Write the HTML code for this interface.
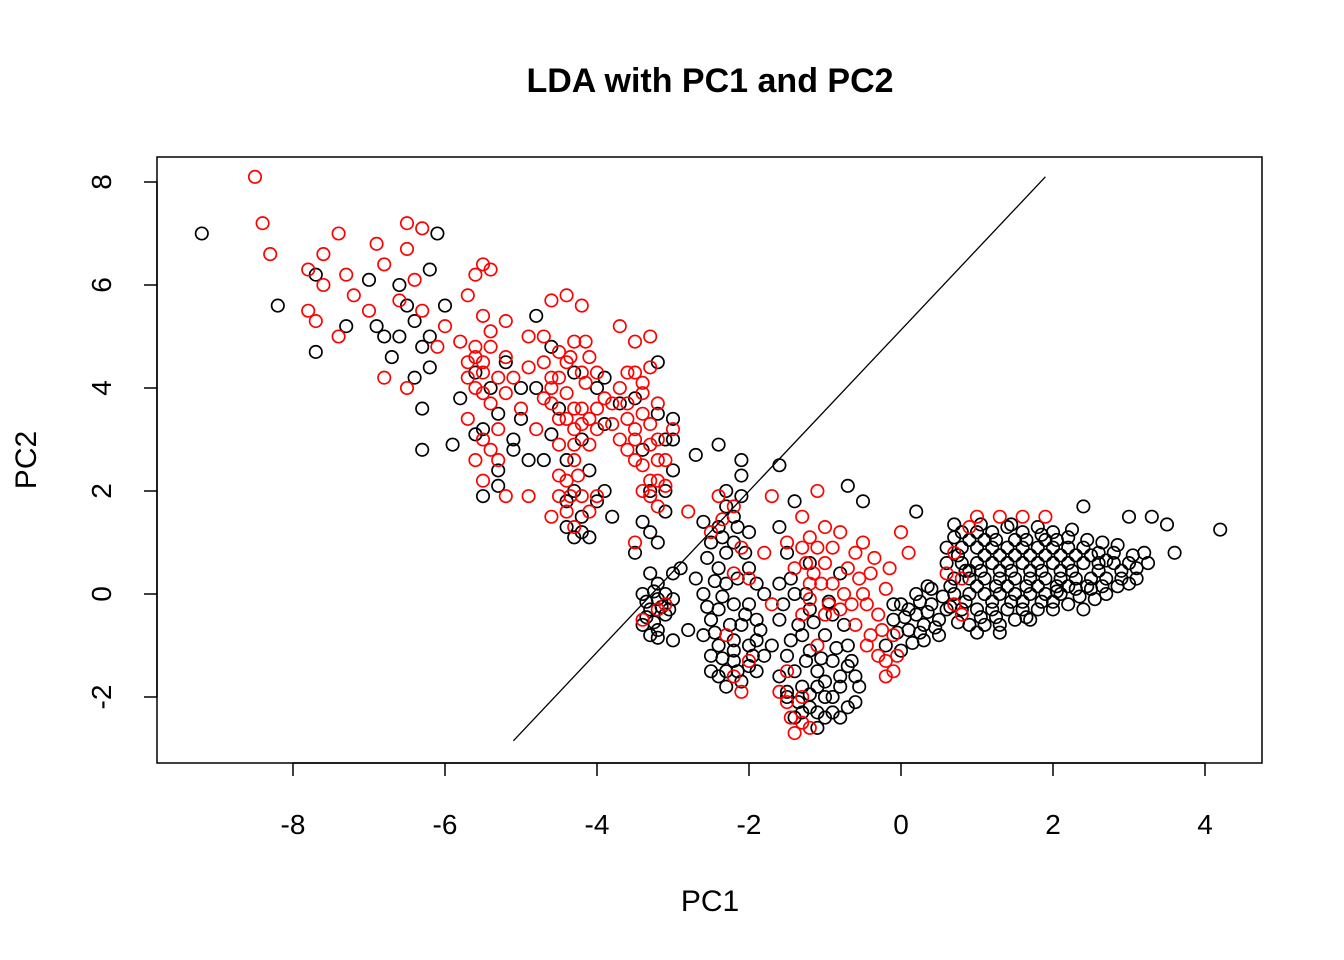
<!DOCTYPE html>
<html><head><meta charset="utf-8">
<style>
html,body{margin:0;padding:0;background:#fff;}
svg{display:block;font-family:"Liberation Sans",Arial,sans-serif;}
</style></head>
<body>
<svg id="chart" width="1344" height="960">
<text x="710" y="92" text-anchor="middle" font-size="34" font-weight="bold">LDA with PC1 and PC2</text>
<text x="710" y="911" text-anchor="middle" font-size="30">PC1</text>
<text x="36" y="460" text-anchor="middle" font-size="30" transform="rotate(-90 36 460)">PC2</text>
<g id="points"></g>
<g id="axes"></g>
<rect x="157" y="157" width="1105" height="606" fill="none" stroke="#000" stroke-width="1.5"/>
</svg>
<script>
const xTicks=[-8,-6,-4,-2,0,2,4];
const yTicks=[-2,0,2,4,6,8];
const lineX=[-5.1,1.9];
const lineY=[-2.85,8.1];
const blackPts="-9.2,7.0 -8.2,5.6 -7.7,4.7 -7.7,6.2 -7.3,5.2 -7.0,6.1 -6.1,7.0 -6.2,6.3 -6.0,5.6 -6.6,6.0 -6.3,3.6 -6.3,2.8 -5.9,2.9 -5.5,1.9 -5.3,2.1 -4.9,2.6 -5.1,2.8 4.2,1.25 3.6,0.8 3.5,1.35 3.3,1.5 3.0,1.5 2.4,1.7 -0.7,2.1 -1.6,2.5 -2.1,2.6 -2.4,2.9 -2.7,2.7 -3.0,3.0 -3.2,4.5 -3.9,4.2 -4.3,1.1 -4.1,1.1 -3.8,1.5 -3.0,-0.9 -2.8,-0.7 -2.9,0.5 -0.7,-2.2 0.2,1.6 -0.5,1.8 "+
"0.8,1.2 1.0,1.2 1.2,1.2 1.4,1.3 1.6,1.2 1.8,1.3 2.0,1.2 2.2,1.1 0.6,0.9 0.8,0.9 1.0,0.9 1.2,0.9 1.4,0.9 1.6,0.9 1.8,0.9 2.0,0.9 2.2,0.9 2.4,0.9 2.6,0.8 2.8,0.8 3.1,0.5 3.2,0.8 0.6,0.6 0.8,0.6 1.0,0.6 1.2,0.6 1.4,0.6 1.6,0.6 1.8,0.6 2.0,0.6 2.2,0.6 2.4,0.6 2.6,0.6 2.8,0.6 3.0,0.6 0.7,0.3 0.9,0.3 1.1,0.3 1.3,0.3 1.5,0.3 1.7,0.3 1.9,0.3 2.1,0.3 2.3,0.3 2.5,0.3 2.7,0.3 2.9,0.3 3.0,0.2 0.7,0.0 0.9,0.0 1.1,0.0 1.3,0.0 1.5,0.0 1.7,0.0 1.9,0.0 2.1,0.0 2.3,0.1 2.5,0.1 2.7,0.0 0.8,-0.3 1.0,-0.3 1.2,-0.3 1.4,-0.3 1.6,-0.3 1.8,-0.3 2.0,-0.3 2.2,-0.2 0.9,-0.6 1.1,-0.6 1.3,-0.6 1.5,-0.5 1.7,-0.5 2.4,-0.3 0.7,1.1 1.1,1.05 1.5,1.05 1.9,1.05 2.3,0.75 2.1,0.45 1.7,0.45 1.3,0.45 0.9,0.45 1.0,0.15 1.4,0.15 1.8,0.15 2.2,0.15 2.6,0.45 1.2,-0.15 1.6,-0.15 2.0,-0.15 "+
"0.7,1.35 0.9,1.05 1.1,0.75 1.3,0.75 1.5,0.75 1.7,0.75 1.9,0.75 2.1,0.75 2.5,0.75 2.7,0.65 2.9,0.45 3.1,0.3 0.75,0.75 0.85,0.45 1.05,0.45 1.25,0.15 1.45,0.45 1.65,0.15 1.85,0.45 2.05,0.15 2.25,0.45 2.45,0.15 2.65,0.15 2.85,0.15 0.85,-0.15 1.05,-0.45 1.25,-0.45 1.45,-0.15 1.65,-0.45 1.85,-0.15 2.05,0.05 2.35,-0.05 2.55,-0.1 1.05,1.35 1.25,1.05 1.45,1.35 1.65,1.05 1.85,1.15 2.05,1.05 2.25,1.25 2.45,1.05 2.65,1.0 2.85,0.95 3.05,0.75 3.25,0.6 0.65,0.15 0.65,-0.25 0.75,-0.55 1.0,-0.75 1.3,-0.75 "+
"0,-0.2 0.2,-0.4 0.4,-0.2 0.1,-0.7 0.3,-0.6 -0.1,-0.5 0.5,-0.5 0.2,0.0 -0.2,-1.0 0,-1.1 0.4,0.1 0.3,-0.9 0.5,-0.8 -0.1,-0.2 0.1,-0.3 0.05,-0.45 0.25,-0.15 0.35,-0.35 0.45,-0.65 0.15,-0.95 -0.05,-0.75 0.55,-0.05 0.6,-0.3 0.25,-0.75 0.35,0.15 "+
"-1.4,-2.4 -1.2,-2.2 -1.0,-2.0 -0.8,-1.8 -1.3,-1.8 -1.1,-1.5 -0.9,-1.3 -1.5,-1.2 -0.7,-1.0 -1.0,-0.8 -1.2,-0.3 -1.4,0.0 -0.9,-2.3 -0.6,-2.1 -1.1,-2.6 -1.6,-1.6 -0.8,0.4 -1.5,0.8 -1.6,-0.5 -1.2,-1.1 -0.8,-1.6 -1.0,-2.4 -1.3,-0.8 -1.6,0.2 -1.2,0.6 -0.9,-0.4 -0.7,-1.4 -1.4,-1.5 -1.1,-1.8 -1.5,-2.0 -0.6,-1.6 -1.7,-1.0 -1.6,1.3 -1.4,1.8 "+
"-1.5,-1.9 -1.3,-2.3 -1.1,-2.3 -0.9,-2.0 -0.8,-2.4 -1.25,-1.3 -1.05,-1.25 -0.85,-1.05 -1.45,-0.9 -1.35,-0.6 -1.15,-0.55 -0.95,-0.15 -1.55,-0.2 -1.45,0.3 -1.25,0.0 -0.75,-0.6 -0.65,-1.3 -0.55,-1.8 -1.0,-1.7 -1.2,-1.95 -1.35,-2.1 "+
"-2.6,0 -2.5,-0.5 -2.4,-1 -2.3,-1.5 -2.1,-1.7 -1.9,-1.5 -2.0,-1.0 -1.9,-0.5 -2.2,-0.2 -2.4,0.5 -2.5,1.0 -2.2,1.5 -2.3,2.0 -2.1,2.3 -2.2,1.0 -2.0,0.5 -1.8,0 -2.6,1.4 -2.7,0.3 -2.5,-1.2 -2.2,-1.3 -1.8,-1.2 -2.3,0.2 -2.1,-0.6 -2.4,-0.3 -2.2,-0.9 -2.0,-1.4 -2.4,-1.6 -2.6,-0.8 -1.9,-0.9 -2.0,-0.2 -2.3,0.8 -2.4,1.3 -2.1,1.9 -2.0,1.2 "+
"-2.55,-0.25 -2.45,-0.75 -2.35,-1.25 -2.15,-1.5 -1.95,-1.2 -1.85,-0.7 -2.05,-0.4 -2.25,-0.6 -2.35,-0.05 -2.15,0.3 -2.45,0.25 -2.55,0.7 -2.35,1.1 -2.15,1.3 -2.3,1.7 -2.05,0.8 -1.9,0.2 -2.2,-1.1 -2.5,-1.5 -2.3,-1.8 "+
"-3.4,-0.6 -3.3,-0.3 -3.2,-0.7 -3.1,-0.4 -3.0,-0.1 -3.2,0.2 -3.4,0.0 -3.0,0.4 -3.3,-0.8 -3.1,0.0 -3.3,0.4 -3.2,-0.1 -3.35,-0.45 -3.25,-0.55 -3.15,-0.25 -3.25,0.05 -3.05,-0.3 -3.35,-0.15 -3.2,-0.85 "+
"-3.5,0.8 -3.4,1.4 -3.2,1.0 -3.1,1.6 -3.0,2.4 -3.1,3.0 -3.0,3.4 -3.3,2.0 -3.4,2.8 -3.2,3.5 -3.3,1.2 -3.1,2.0 "+
"-4.4,1.3 -4.2,1.5 -4.0,1.8 -4.3,2.0 -4.1,2.4 -3.9,2.0 -4.4,2.6 -4.2,3.0 -3.9,3.3 -4.5,3.6 -4.0,4.0 -4.3,4.3 -3.7,3.7 -3.5,3.8 -4.7,2.6 -4.6,3.1 -4.8,4.0 -4.6,4.8 -4.8,5.4 -4.2,1.2 -4.4,1.8 "+
"-5.5,3.2 -5.3,3.5 -5.1,3.0 -5.4,4.0 -5.2,4.5 -5.6,4.3 -5.0,4.0 -5.3,2.4 -5.8,3.8 -5.6,3.1 -5.0,3.4 "+
"-6.6,5.0 -6.4,5.3 -6.3,4.8 -6.5,5.6 -6.7,4.6 -6.2,4.4 -6.9,5.2 -6.4,4.2 -6.8,5.0 -6.2,5.0";
const redPts="-8.5,8.1 -8.4,7.2 -8.3,6.6 -7.8,6.3 -7.6,6.6 -7.4,7.0 -7.3,6.2 -7.2,5.8 -7.6,6.0 -7.8,5.5 -7.7,5.3 -7.4,5.0 -6.9,6.8 -6.8,6.4 -6.5,7.2 -6.3,7.1 -6.5,6.7 -6.4,6.1 -7.0,5.5 -6.8,4.2 -6.5,4.0 -6.6,5.7 -6.3,5.5 -6.1,4.8 -6.0,5.2 -5.7,5.8 -5.6,6.2 -5.5,6.4 -5.4,6.3 -5.5,5.4 -5.2,5.3 -4.9,5.0 -4.6,5.7 -4.4,5.8 -4.2,5.6 -3.7,5.2 -3.3,5.0 -3.5,4.9 -4.0,4.3 "+
"-5.6,4.6 -5.4,4.8 -5.2,4.6 -5.6,4.0 -5.4,3.7 -5.7,3.4 -5.5,3.0 -5.3,2.6 -5.5,2.2 -5.0,3.6 -5.7,4.5 -5.8,4.9 -5.1,4.2 -5.2,1.9 -5.4,5.1 -5.5,4.3 "+
"-5.6,4.8 -5.5,4.5 -5.3,4.2 -5.5,3.9 -5.3,3.2 -5.4,2.8 -5.6,2.6 -5.2,3.9 -5.7,4.2 "+
"-4.7,5.0 -4.5,4.7 -4.3,4.9 -4.1,4.6 -4.6,4.2 -4.4,3.9 -4.2,3.6 -4.0,3.2 -4.7,3.8 -4.5,3.4 -4.3,3.2 -4.8,3.2 -4.1,2.9 -4.3,2.6 -4.5,2.3 -4.2,1.9 -4.4,1.6 -4.0,1.9 -4.9,1.9 -4.6,1.5 -4.3,1.3 -4.9,4.4 -3.9,3.8 -4.2,4.3 -4.4,4.5 -4.6,4.0 -4.3,3.6 -4.5,2.9 "+
"-4.7,4.5 -4.5,4.2 -4.35,4.6 -4.15,4.1 -4.6,3.7 -4.4,3.4 -4.2,3.3 -4.3,2.9 -4.4,2.2 -4.25,2.3 -4.1,1.6 -4.35,1.9 -4.5,1.9 -4.1,3.4 -4.0,3.6 -4.15,4.9 "+
"-3.7,4.0 -3.5,4.3 -3.3,4.4 -3.6,3.7 -3.4,3.5 -3.2,3.7 -3.7,3.0 -3.5,2.6 -3.3,2.9 -3.1,2.6 -3.2,2.2 -3.4,2.0 -3.8,3.3 -3.6,2.8 -3.0,3.2 -3.2,1.7 -3.4,3.9 -3.5,3.2 "+
"-3.6,4.3 -3.4,4.1 -3.3,3.3 -3.5,3.0 -3.4,2.5 -3.3,2.2 -3.2,3.0 -3.6,3.4 -3.2,2.6 -3.1,2.1 -3.3,1.9 -3.8,3.7 "+
"-3.5,1.0 -3.4,-0.5 -3.2,-0.3 -3.1,-0.2 -2.8,1.6 -2.5,1.2 -2.4,1.9 -2.2,1.7 -2.1,0.9 -2.0,0.3 -2.3,-0.8 -2.0,-1.3 -2.1,-1.9 -1.5,1.0 -1.3,1.5 -1.1,2.0 -1.4,0.5 -1.2,0.2 -1.0,0.6 -1.3,-0.4 -1.1,-1.0 -1.5,-1.5 -1.3,-2.0 -1.4,-2.7 -1.2,-2.6 -1.5,-2.1 -0.8,1.2 -0.6,0.8 -0.4,0.4 -0.2,0.1 -0.5,0.0 -0.3,-0.4 -0.1,-0.8 -0.3,-1.2 -0.1,-1.5 0.0,1.2 0.1,0.8 -0.6,-0.6 -0.9,0.2 -0.8,-0.3 -1.0,1.3 -1.7,1.9 0.7,-0.2 0.8,0.3 0.7,0.8 0.9,1.3 1.0,1.5 1.3,1.5 1.6,1.5 1.9,1.5 0.8,-0.4 0.6,0.4 -1.8,0.8 -1.7,-0.2 -1.1,0.9 -0.7,0.5 -0.5,1.0 -0.4,-0.8 -0.2,-1.3 -1.2,1.1 -0.9,0.9 "+
"-1.25,0.6 -1.15,0.4 -1.05,0.2 -1.3,0.9 -1.2,-0.1 -0.95,-0.2 -0.75,0.0 -0.55,0.3 -0.45,-0.2 -0.65,-0.2 -0.35,0.7 -0.15,0.5 -0.25,-0.7 -0.45,-1.0 -0.2,-1.6 -0.05,-1.2 -1.0,-0.4 -1.45,-2.4 -1.3,-2.5 -1.6,-1.9 -2.2,-1.6 -2.2,0.4 -2.35,1.45";
const XMIN=-8,XMAX=4,PXMIN=293,PXMAX=1205;
const YMIN=-2,YMAX=8,PYMIN=697,PYMAX=182;
function sx(v){return PXMIN+(v-XMIN)*(PXMAX-PXMIN)/(XMAX-XMIN);}
function sy(v){return PYMIN+(v-YMIN)*(PYMAX-PYMIN)/(YMAX-YMIN);}
const NS="http://www.w3.org/2000/svg";
function parse(s){return s.trim().split(/\s+/).map(p=>p.split(',').map(Number));}
const layer=document.getElementById('points');
function drawSeries(arr,color,name){
  arr.forEach(([x,y])=>{
    const c=document.createElementNS(NS,'circle');
    c.setAttribute('cx',sx(x));c.setAttribute('cy',sy(y));c.setAttribute('r',6.2);
    c.setAttribute('fill','none');c.setAttribute('stroke',color);c.setAttribute('stroke-width',1.7);
    
    
    layer.appendChild(c);
  });
}
drawSeries(parse(blackPts),'#000','point-class-black');
drawSeries(parse(redPts),'#ff0000','point-class-red');
const ln=document.createElementNS(NS,'line');
ln.setAttribute('x1',sx(lineX[0]));ln.setAttribute('y1',sy(lineY[0]));
ln.setAttribute('x2',sx(lineX[1]));ln.setAttribute('y2',sy(lineY[1]));
ln.setAttribute('stroke','#000');ln.setAttribute('stroke-width',1.3);


layer.appendChild(ln);
const axes=document.getElementById('axes');
function add(tag,attrs,txt){const e=document.createElementNS(NS,tag);for(const k in attrs)e.setAttribute(k,attrs[k]);if(txt!==undefined)e.textContent=txt;axes.appendChild(e);return e;}
add('line',{x1:sx(xTicks[0]),x2:sx(xTicks[xTicks.length-1]),y1:763,y2:763,stroke:'#000','stroke-width':1.5});
xTicks.forEach(t=>{
  const l=add('line',{x1:sx(t),x2:sx(t),y1:763,y2:776,stroke:'#000','stroke-width':1.5});
  
  
  const tx=add('text',{x:sx(t),y:834,'text-anchor':'middle','font-size':28},String(t));
  
  
});
add('line',{x1:157,x2:157,y1:sy(yTicks[0]),y2:sy(yTicks[yTicks.length-1]),stroke:'#000','stroke-width':1.5});
yTicks.forEach(t=>{
  const l=add('line',{x1:144,x2:157,y1:sy(t),y2:sy(t),stroke:'#000','stroke-width':1.5});
  
  
  const tx=add('text',{x:111,y:sy(t),'text-anchor':'middle','font-size':28,transform:`rotate(-90 111 ${sy(t)})`},String(t));
  
  
});
</script>
</body></html>
